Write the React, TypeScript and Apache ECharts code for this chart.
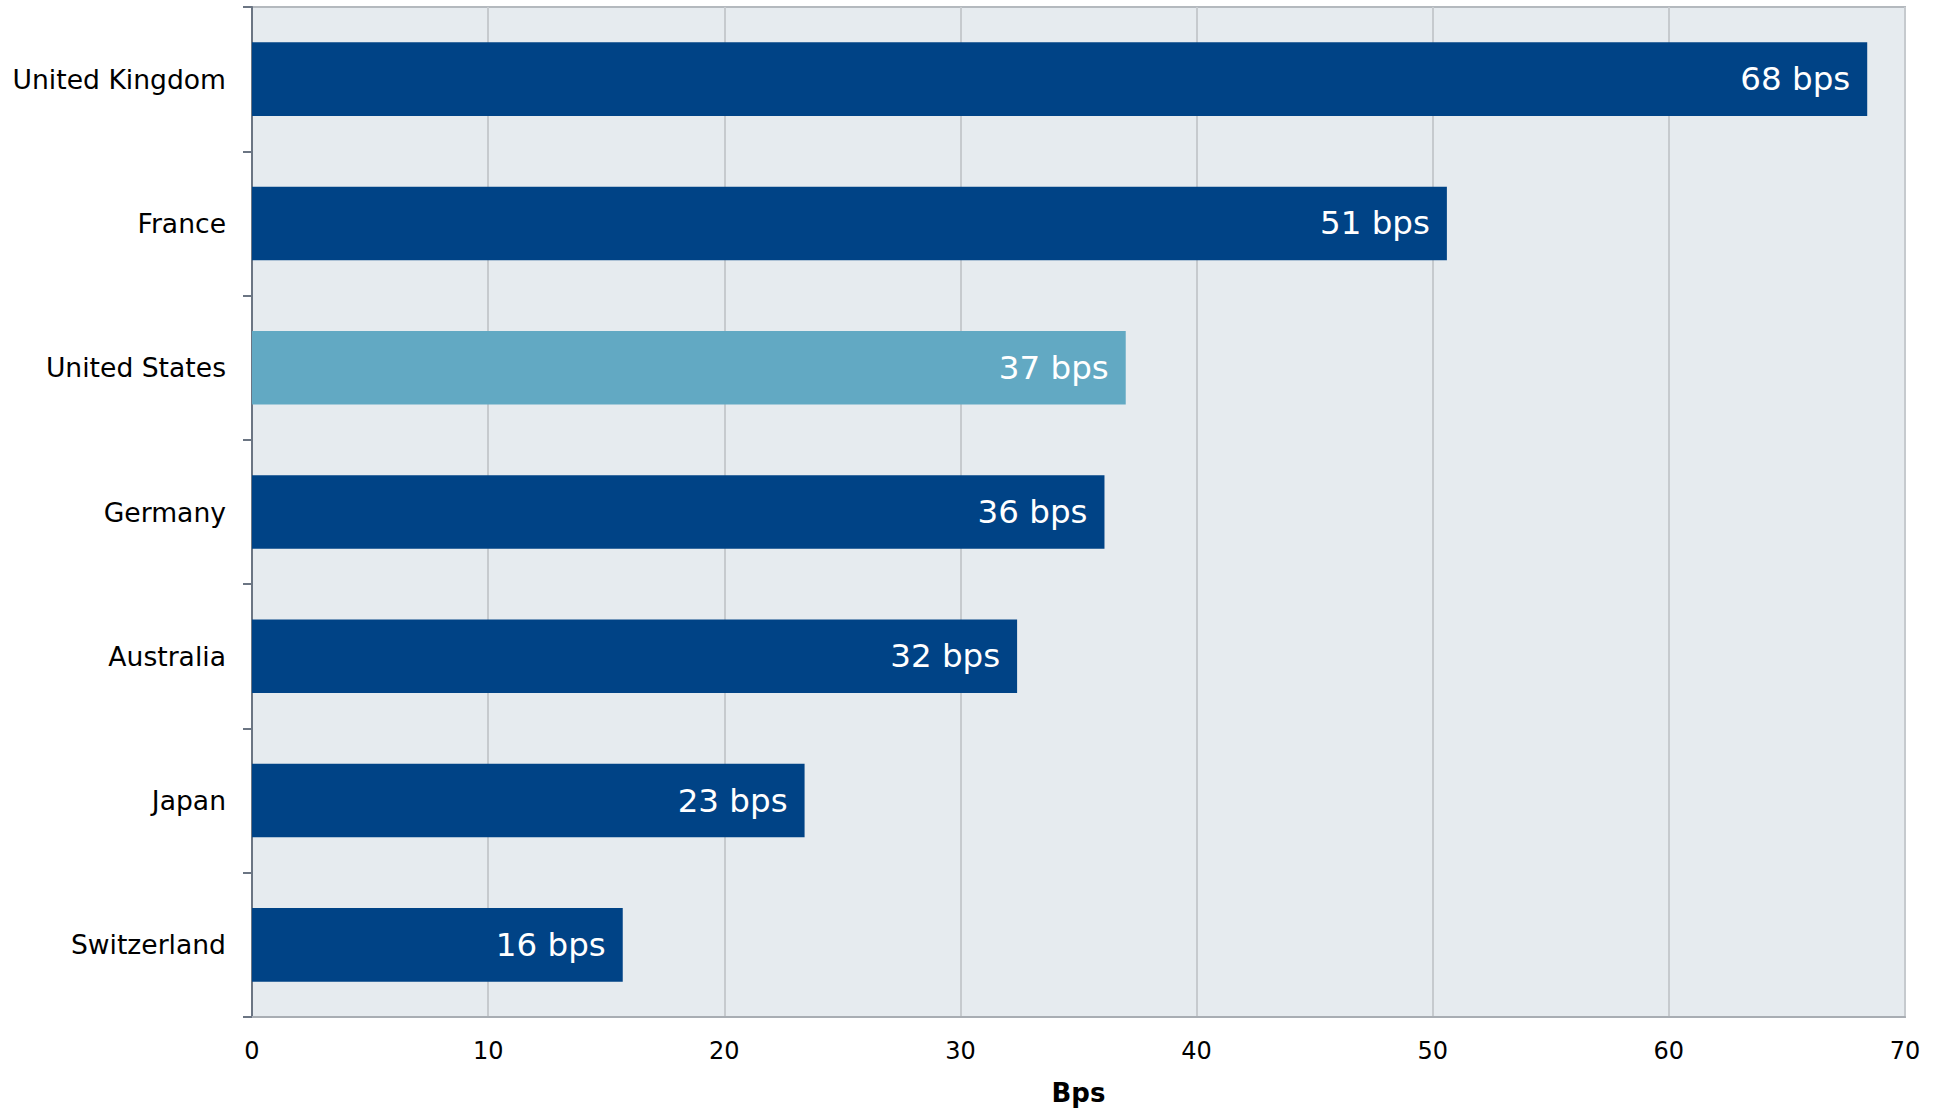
import React, { useEffect, useRef } from "react";
import * as echarts from "echarts";

const categories = ["United Kingdom", "France", "United States", "Germany", "Australia", "Japan", "Switzerland"];
const values = [68.4, 50.6, 37.0, 36.1, 32.4, 23.4, 15.7];
const labels = ["68 bps", "51 bps", "37 bps", "36 bps", "32 bps", "23 bps", "16 bps"];
const highlighted = ["United States"];
const xTicks = [0, 10, 20, 30, 40, 50, 60, 70];
const axisName = "Bps";

const DARK = "#004386";
const LIGHT = "#62A9C3";
const FONT = "DejaVu Sans";

export default function App() {
  const ref = useRef<HTMLDivElement>(null);

  useEffect(() => {
    document.documentElement.style.overflow = "hidden";
    document.body.style.margin = "0";
    document.body.style.overflow = "hidden";
    if (!ref.current) return;
    const chart = echarts.init(ref.current, undefined, { renderer: "svg" });
    chart.setOption({
      animation: false,
      textStyle: { fontFamily: FONT },
      grid: {
        left: 252,
        right: 37,
        top: 7,
        bottom: 91,
        containLabel: false,
        outerBoundsMode: "none",
        show: true,
        backgroundColor: "#E6EBEF",
        borderColor: "#B4B9BE",
        borderWidth: 2,
      },
      xAxis: {
        type: "value",
        min: xTicks[0],
        max: xTicks[xTicks.length - 1],
        interval: 10,
        name: axisName,
        nameLocation: "middle",
        nameGap: 63,
        nameTextStyle: { fontFamily: FONT, fontSize: 26, fontWeight: "bold", color: "#000" },
        axisLine: { show: true, lineStyle: { color: "#A8ADB3", width: 2 } },
        axisTick: { show: false },
        axisLabel: { fontFamily: FONT, fontSize: 24, color: "#000", margin: 22 },
        splitLine: { show: true, lineStyle: { color: "#C6CACE", width: 2 } },
      },
      yAxis: {
        type: "category",
        data: categories,
        inverse: true,
        axisLine: { show: true, lineStyle: { color: "#6B7583", width: 2 } },
        axisTick: { show: true, length: 9, lineStyle: { color: "#6B7583", width: 2 } },
        axisLabel: { fontFamily: FONT, fontSize: 26.6, color: "#000", margin: 26 },
        splitLine: { show: false },
      },
      series: [
        {
          type: "bar",
          barCategoryGap: "49%",
          data: values.map((v, i) => ({
            value: v,
            itemStyle: { color: highlighted.includes(categories[i]) ? LIGHT : DARK },
          })),
          label: {
            show: true,
            position: "insideRight",
            distance: 17,
            fontFamily: FONT,
            fontSize: 32.5,
            color: "#fff",
            formatter: (p: any) => labels[p.dataIndex],
          },
        },
      ],
    });
    return () => chart.dispose();
  }, []);

  return (
    <div
      ref={ref}
      style={{ position: "fixed", left: 0, top: 0, width: 1942, height: 1108, background: "#fff", overflow: "hidden" }}
    />
  );
}
